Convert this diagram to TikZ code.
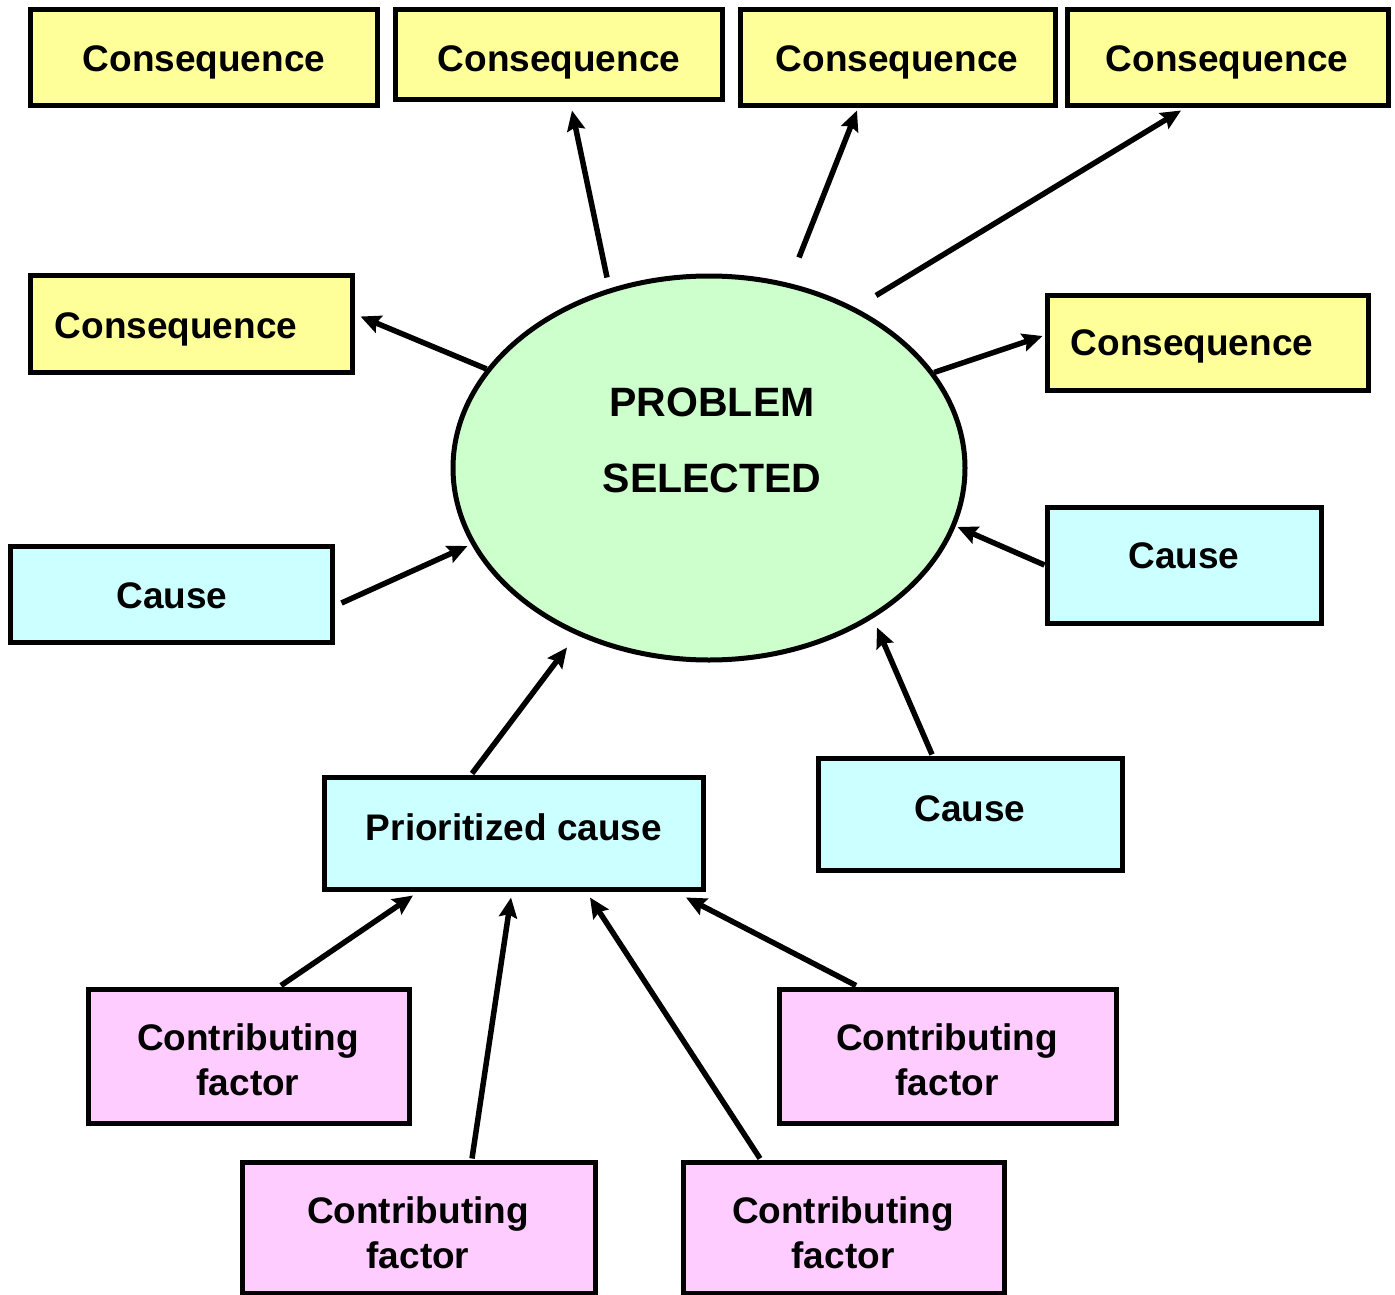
\documentclass[tikz,border=0pt]{standalone}
\usepackage{fontspec}
\setmainfont{Liberation Sans}
\usetikzlibrary{shapes.geometric,arrows.meta}
\definecolor{conseq}{HTML}{FFFF99}
\definecolor{causefill}{HTML}{CCFFFF}
\definecolor{probfill}{HTML}{CCFFCC}
\definecolor{factorfill}{HTML}{FFCCFF}
\begin{document}
\begin{tikzpicture}[x=1pt,y=-1pt,
  box/.style={draw=black,line width=5pt,rectangle,inner sep=0pt,
    minimum width=#1},
  box/.default=320pt,
  lbl/.style={anchor=base,inner sep=0pt,align=center,
    font=\fontsize{37}{45}\selectfont\bfseries},
  arr/.style={line width=5.5pt,-{Stealth[length=20pt,width=18pt,inset=3pt]}}]
\useasboundingbox (0,0) rectangle (1395,1295);

% central problem
\node[ellipse,draw=black,line width=5pt,fill=probfill,inner sep=0pt,
  minimum width=512pt,minimum height=384pt] (prob) at (709,468) {};
\node[lbl,font=\fontsize{41}{76}\selectfont\bfseries] (probt) at (712,492) {PROBLEM\\SELECTED};

% consequences
\node[box=347pt,minimum height=96pt,fill=conseq] (c1) at (203.5,58) {};
\node[box=327pt,minimum height=90pt,fill=conseq] (c2) at (558.5,55) {};
\node[box=315pt,minimum height=96pt,fill=conseq] (c3) at (897.5,58) {};
\node[box=321pt,minimum height=96pt,fill=conseq] (c4) at (1227.5,58) {};
\node[box=322pt,minimum height=97pt,fill=conseq] (c5) at (191,323.5) {};
\node[box=321pt,minimum height=95pt,fill=conseq] (c6) at (1207.5,342.5) {};
\node[lbl] (c1t) at (204,72) {Consequence};
\node[lbl] (c2t) at (559,72) {Consequence};
\node[lbl] (c3t) at (897,72) {Consequence};
\node[lbl] (c4t) at (1227,72) {Consequence};
\node[lbl] (c5t) at (176,338) {Consequence};
\node[lbl] (c6t) at (1192,355) {Consequence};

% causes
\node[box=322pt,minimum height=96pt,fill=causefill] (cl) at (171,594) {};
\node[box=274pt,minimum height=116pt,fill=causefill] (cr) at (1184,565) {};
\node[box=304pt,minimum height=112pt,fill=causefill] (cb) at (970,814) {};
\node[box=379pt,minimum height=112pt,fill=causefill] (prio) at (513.5,833) {};
\node[lbl] (clt) at (172,608) {Cause};
\node[lbl] (crt) at (1184,568) {Cause};
\node[lbl] (cbt) at (970,821) {Cause};
\node[lbl] (priot) at (514,840) {Prioritized cause};

% contributing factors
\node[box=321pt,minimum height=134pt,fill=factorfill] (cf1) at (248.5,1056) {};
\node[box=353pt,minimum height=131pt,fill=factorfill] (cf2) at (418.5,1227.5) {};
\node[box=321pt,minimum height=131pt,fill=factorfill] (cf3) at (843.5,1227.5) {};
\node[box=337pt,minimum height=134pt,fill=factorfill] (cf4) at (947.5,1056) {};
\node[lbl] (cf1t) at (248,1095) {Contributing\\factor};
\node[lbl] (cf2t) at (418,1268) {Contributing\\factor};
\node[lbl] (cf3t) at (843,1268) {Contributing\\factor};
\node[lbl] (cf4t) at (947,1095) {Contributing\\factor};

% problem -> consequences
\draw[arr] (prob.156) -- ([shift={(6,-7)}]c5.east);
\draw[arr] ([shift={(-102,4)}]prob.north) -- ([shift={(13.5,8)}]c2.south);
\draw[arr] ([shift={(90,-16)}]prob.north) -- ([shift={(-40.5,2)}]c3.south);
\draw[arr] ([shift={(167,22)}]prob.north) -- ([shift={(-46.5,2)}]c4.south);
\draw[arr] (prob.23) -- ([shift={(-2,-6.5)}]c6.west);

% causes -> problem
\draw[arr] ([shift={(7,9)}]cl.east) -- ([shift={(17,78)}]prob.west);
\draw[arr] (cr.west) -- ([shift={(-10,59)}]prob.east);
\draw[arr] ([shift={(-38,-1)}]cb.north) -- ([shift={(168,-35)}]prob.south);
\draw[arr] ([shift={(-41.5,-1)}]prio.north) -- ([shift={(-142,-15)}]prob.south);

% contributing factors -> prioritized cause
\draw[arr] ([shift={(32.5,-1)}]cf1.north) -- ([shift={(-100.5,4)}]prio.south);
\draw[arr] ([shift={(53.5,-1)}]cf2.north) -- ([shift={(-2.5,6)}]prio.south);
\draw[arr] ([shift={(-83.5,-1)}]cf3.north) -- ([shift={(76.5,6)}]prio.south);
\draw[arr] ([shift={(-91.5,-1)}]cf4.north) -- ([shift={(172.5,6)}]prio.south);
\end{tikzpicture}
\end{document}
